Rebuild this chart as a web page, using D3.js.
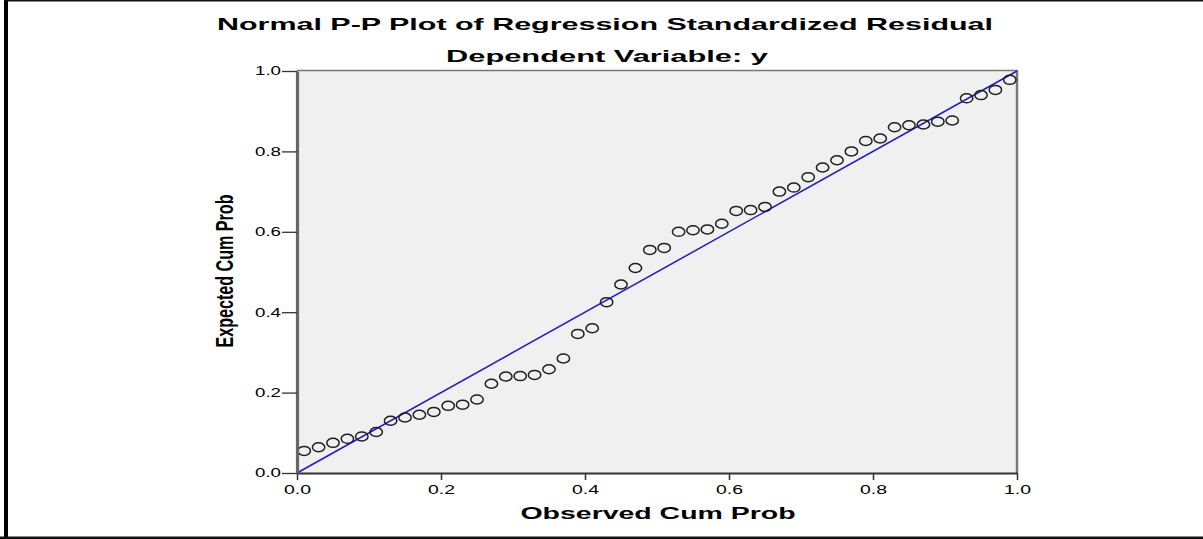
<!DOCTYPE html>
<html><head><meta charset="utf-8">
<script src="https://cdn.jsdelivr.net/npm/d3@7"></script>
<style>
html,body{margin:0;padding:0;background:#fff;}
svg{display:block;}
text{font-family:"Liberation Sans",Arial,sans-serif;fill:#000;}
</style></head>
<body>
<svg id="c" width="1203" height="539"></svg>
<script>
// Data
const observed = [0.01,0.03,0.05,0.07,0.09,0.11,0.13,0.15,0.17,0.19,0.21,0.23,0.25,0.27,0.29,0.31,0.33,0.35,0.37,0.39,0.41,0.43,0.45,0.47,0.49,0.51,0.53,0.55,0.57,0.59,0.61,0.63,0.65,0.67,0.69,0.71,0.73,0.75,0.77,0.79,0.81,0.83,0.85,0.87,0.89,0.91,0.93,0.95,0.97,0.99];
const expected = [0.055,0.064,0.075,0.085,0.091,0.102,0.13,0.138,0.145,0.152,0.167,0.17,0.183,0.222,0.24,0.241,0.244,0.258,0.285,0.346,0.36,0.425,0.469,0.51,0.555,0.56,0.6,0.604,0.606,0.62,0.652,0.654,0.662,0.7,0.71,0.736,0.76,0.778,0.8,0.826,0.832,0.86,0.865,0.867,0.874,0.877,0.932,0.94,0.953,0.978];
const ticks = [0.0,0.2,0.4,0.6,0.8,1.0];
const tickLabels = ["0.0","0.2","0.4","0.6","0.8","1.0"];
const refLine = [[0,0],[1,1]];
const title = "Normal P-P Plot of Regression Standardized Residual";
const subtitle = "Dependent Variable: y";
const xLabel = "Observed Cum Prob";
const yLabel = "Expected Cum Prob";

const svg = d3.select("#c");
const x = d3.scaleLinear().domain([0,1]).range([297,1017]);
const y = d3.scaleLinear().domain([0,1]).range([473,71]);

// outer frame
svg.append("rect").attr("x",4).attr("y",0).attr("width",4).attr("height",539).attr("fill","#000");
svg.append("rect").attr("x",4).attr("y",0).attr("width",1199).attr("height",1.5).attr("fill","#111");
svg.append("rect").attr("x",0).attr("y",536.5).attr("width",1203).attr("height",2.5).attr("fill","#111");

// plot background
svg.append("rect").attr("x",x(0)).attr("y",y(1)).attr("width",x(1)-x(0)).attr("height",y(0)-y(1)).attr("fill","#f0f0f0");

// top border
svg.append("line").attr("x1",x(0)).attr("x2",x(1)).attr("y1",y(1)-0.5).attr("y2",y(1)-0.5).attr("stroke","#777").attr("stroke-width",1.3);
// right border
svg.append("line").attr("x1",x(1)).attr("x2",x(1)).attr("y1",y(1)-1).attr("y2",y(0)).attr("stroke","#777").attr("stroke-width",2.5);

// reference line
svg.append("path").datum(refLine)
  .attr("d",d3.line().x(d=>x(d[0])).y(d=>y(d[1])))
  .attr("stroke","#1a1ad6").attr("stroke-width",1.5).attr("fill","none");

// points
svg.append("g").selectAll("ellipse").data(observed).join("ellipse")
  .attr("cx",(d)=>x(d)).attr("cy",(d,i)=>y(expected[i]))
  .attr("rx",6.2).attr("ry",4.5)
  .attr("fill","none").attr("stroke","#1e1e1e").attr("stroke-width",1.5);

// x axis
const xa = svg.append("g").attr("transform",`translate(0,${y(0)})`)
  .call(d3.axisBottom(x).tickValues(ticks).tickFormat((d,i)=>tickLabels[i]).tickSize(7).tickSizeOuter(0).tickPadding(5));
xa.select(".domain").attr("stroke","#333").attr("stroke-width",2);
xa.selectAll(".tick line").attr("stroke","#333").attr("stroke-width",1.5);
xa.selectAll(".tick text").attr("font-size",12).attr("textLength",27).attr("lengthAdjust","spacingAndGlyphs").attr("fill","#222");

// y axis
const ya = svg.append("g").attr("transform",`translate(${x(0)},0)`)
  .call(d3.axisLeft(y).tickValues(ticks).tickFormat((d,i)=>tickLabels[i]).tickSize(15).tickSizeOuter(0).tickPadding(1));
ya.select(".domain").attr("stroke","#666").attr("stroke-width",3.2);
ya.selectAll(".tick line").attr("stroke","#333").attr("stroke-width",1.3);
ya.selectAll(".tick text").attr("font-size",12).attr("textLength",26).attr("lengthAdjust","spacingAndGlyphs").attr("fill","#222");

// titles
svg.append("text").attr("x",605).attr("y",30).attr("text-anchor","middle")
  .attr("font-size",17).attr("font-weight","bold")
  .attr("textLength",776).attr("lengthAdjust","spacingAndGlyphs").text(title);
svg.append("text").attr("x",607).attr("y",62).attr("text-anchor","middle")
  .attr("font-size",17).attr("font-weight","bold")
  .attr("textLength",322).attr("lengthAdjust","spacingAndGlyphs").text(subtitle);
svg.append("text").attr("x",658).attr("y",519).attr("text-anchor","middle")
  .attr("font-size",16).attr("font-weight","bold")
  .attr("textLength",275).attr("lengthAdjust","spacingAndGlyphs").text(xLabel);
svg.append("text").attr("transform","translate(233,271) rotate(-90)").attr("text-anchor","middle")
  .attr("font-size",23).attr("font-weight","bold")
  .attr("textLength",153).attr("lengthAdjust","spacingAndGlyphs").text(yLabel);
</script>
</body></html>
